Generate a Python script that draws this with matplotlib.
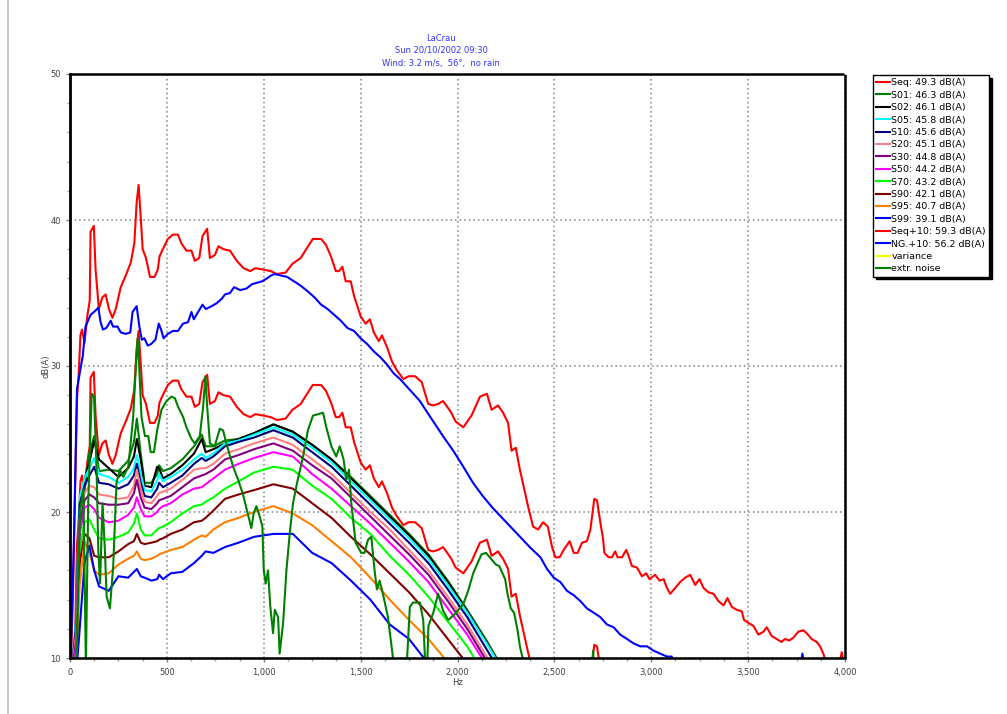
import matplotlib.pyplot as plt
import numpy as np
from matplotlib.lines import Line2D
from matplotlib.ticker import MultipleLocator, FuncFormatter

# Seq+10 (upper red); Seq is the same curve 10 dB lower
f_seq = [0, 15, 36, 45, 54, 62, 75, 89, 102, 106,
         123, 132, 149, 167, 184, 201, 219, 236, 262, 288,
         314, 332, 344, 354, 366, 375, 392, 413, 436, 453,
         462, 479, 505, 531, 557, 575, 601, 627, 644, 667,
         684, 708, 722, 748, 766, 792, 826, 861, 896, 930,
         957, 1000, 1035, 1069, 1113, 1148, 1191, 1219, 1253, 1296,
         1321, 1347, 1372, 1389, 1406, 1423, 1449, 1466, 1483, 1500,
         1526, 1548, 1568, 1594, 1610, 1636, 1662, 1687, 1721, 1747,
         1781, 1815, 1831, 1849, 1874, 1900, 1925, 1942, 1968, 1990,
         2030, 2072, 2116, 2152, 2176, 2209, 2235, 2261, 2279, 2301,
         2322, 2364, 2390, 2416, 2442, 2466, 2488, 2505, 2527, 2548,
         2579, 2600, 2620, 2643, 2668, 2686, 2706, 2720, 2737, 2751,
         2758, 2780, 2797, 2814, 2826, 2849, 2871, 2883, 2900, 2926,
         2952, 2974, 2991, 3020, 3043, 3064, 3081, 3098, 3124, 3149,
         3175, 3201, 3227, 3249, 3270, 3295, 3321, 3347, 3373, 3393,
         3416, 3441, 3467, 3479, 3502, 3527, 3553, 3579, 3596, 3622,
         3648, 3673, 3690, 3713, 3734, 3759, 3785, 3802, 3828, 3854,
         3871, 3888, 3905, 3950, 3975, 3983, 3992, 4000]
seq_p10 = [8.0, 14.0, 27.7, 29.5, 32.1, 32.5, 31.6, 33.4, 34.5, 39.2,
           39.6, 36.6, 33.9, 34.7, 34.9, 33.9, 33.3, 33.9, 35.4, 36.2,
           37.1, 38.4, 41.2, 42.4, 40.0, 38.0, 37.4, 36.1, 36.1, 36.6,
           37.5, 38.0, 38.7, 39.0, 39.0, 38.4, 37.9, 37.9, 37.2, 37.4,
           38.9, 39.4, 37.4, 37.6, 38.2, 38.0, 37.9, 37.2, 36.7, 36.5,
           36.7, 36.6, 36.5, 36.3, 36.4, 37.0, 37.4, 38.0, 38.7, 38.7,
           38.3, 37.5, 36.5, 36.5, 36.8, 35.8, 35.8, 34.8, 34.1, 33.4,
           32.9, 33.2, 32.3, 31.7, 32.1, 31.3, 30.3, 29.7, 29.1, 29.3,
           29.3, 28.9, 28.2, 27.4, 27.3, 27.4, 27.6, 27.3, 26.8, 26.2,
           25.8, 26.6, 27.9, 28.1, 27.0, 27.3, 26.8, 26.1, 24.2, 24.4,
           22.9, 20.4, 19.0, 18.8, 19.3, 19.0, 17.6, 16.9, 16.9, 17.4,
           18.0, 17.2, 17.2, 17.9, 18.0, 18.8, 20.9, 20.8, 19.3, 18.2,
           17.2, 16.9, 16.9, 17.3, 16.9, 16.9, 17.4, 17.0, 16.3, 16.2,
           15.6, 15.8, 15.4, 15.7, 15.3, 15.4, 14.8, 14.4, 14.8, 15.2,
           15.5, 15.7, 15.0, 15.4, 14.8, 14.5, 14.4, 13.9, 13.6, 14.1,
           13.5, 13.3, 13.2, 12.6, 12.4, 12.2, 11.6, 11.8, 12.1, 11.5,
           11.3, 11.1, 11.3, 11.2, 11.4, 11.8, 11.9, 11.7, 11.3, 11.1,
           10.8, 10.3, 9.6, 9.5, 9.8, 10.4, 9.8, 9.5]

# NG.+10 (upper blue)
f_ng = [0, 20, 36, 54, 66, 80, 106, 132, 146, 158,
        170, 187, 201, 210, 222, 245, 262, 288, 311, 323,
        344, 358, 371, 384, 401, 418, 441, 458, 470, 483,
        505, 531, 557, 583, 609, 627, 639, 661, 684, 701,
        731, 757, 783, 800, 826, 847, 878, 910, 939, 965,
        991, 1017, 1038, 1055, 1087, 1121, 1156, 1191, 1228, 1262,
        1296, 1330, 1364, 1398, 1432, 1466, 1500, 1534, 1568, 1602,
        1636, 1670, 1704, 1738, 1772, 1806, 1840, 1875, 1925, 1978,
        2030, 2080, 2130, 2180, 2230, 2280, 2330, 2380, 2428, 2462,
        2497, 2531, 2565, 2600, 2634, 2668, 2703, 2737, 2771, 2806,
        2840, 2875, 2909, 2943, 2978, 3012, 3046, 3081, 3106, 3115,
        3770, 3780, 3790, 4000]
ng_p10 = [8.0, 18.0, 28.4, 29.8, 30.7, 32.7, 33.5, 33.8, 34.0, 33.0,
          32.5, 32.6, 32.9, 33.1, 32.7, 32.7, 32.3, 32.2, 32.3, 33.7,
          34.1, 32.7, 31.8, 31.9, 31.4, 31.5, 31.8, 32.9, 32.5, 31.9,
          32.2, 32.4, 32.4, 32.9, 33.0, 33.7, 33.2, 33.7, 34.2, 33.9,
          34.1, 34.3, 34.6, 34.9, 35.0, 35.4, 35.2, 35.3, 35.6, 35.7,
          35.8, 36.0, 36.2, 36.3, 36.2, 36.1, 35.8, 35.5, 35.1, 34.7,
          34.2, 33.9, 33.5, 33.1, 32.6, 32.4, 31.9, 31.5, 31.0, 30.6,
          30.1, 29.5, 29.1, 28.6, 28.1, 27.6, 26.9, 26.2, 25.2, 24.2,
          23.1, 22.0, 21.1, 20.3, 19.6, 18.9, 18.2, 17.5, 16.9, 16.1,
          15.5, 15.2, 14.6, 14.3, 13.9, 13.4, 13.1, 12.8, 12.3, 12.1,
          11.6, 11.3, 11.0, 10.8, 10.8, 10.5, 10.3, 10.1, 10.1, 9.5,
          9.5, 10.3, 9.5, 9.5]

# statistical levels S01 ... S99
f_s = [0, 30, 50, 75, 100, 125, 150, 200, 250, 300,
       330, 345, 365, 385, 420, 450, 460, 480, 520, 580,
       640, 680, 700, 740, 800, 870, 950, 1050, 1150, 1250,
       1350, 1450, 1550, 1650, 1750, 1850, 1950, 2050, 2150, 2250]
s01 = [8.0, 12.0, 19.5, 21.5, 24.0, 25.2, 22.8, 22.9, 22.8, 23.5,
       24.8, 26.4, 24.0, 22.0, 22.0, 22.6, 23.2, 22.8, 23.0, 23.6,
       24.5, 25.3, 24.5, 24.5, 24.9, 25.0, 25.4, 26.0, 25.5, 24.6,
       23.6, 22.4, 21.1, 19.8, 18.5, 17.1, 15.3, 13.3, 11.2, 8.9]
s02 = [8.0, 12.0, 20.5, 22.2, 23.4, 24.9, 23.6, 23.0, 22.4, 23.0,
       23.8, 25.0, 23.6, 21.8, 21.7, 23.1, 23.0, 22.3, 22.6, 23.2,
       24.0, 25.0, 24.1, 24.3, 24.7, 25.0, 25.4, 26.0, 25.5, 24.6,
       23.6, 22.3, 21.0, 19.7, 18.4, 17.0, 15.2, 13.2, 11.1, 8.8]
s05 = [8.0, 12.5, 21.0, 22.3, 23.0, 23.7, 22.6, 22.4, 22.0, 22.4,
       23.0, 23.9, 22.6, 21.5, 21.4, 22.2, 22.6, 22.1, 22.4, 22.9,
       23.6, 24.0, 23.7, 24.0, 24.7, 24.9, 25.3, 25.8, 25.3, 24.4,
       23.4, 22.1, 20.8, 19.5, 18.2, 16.8, 15.0, 13.1, 11.0, 8.8]
s10 = [8.0, 12.0, 20.5, 21.8, 22.5, 23.1, 22.0, 21.9, 21.6, 21.9,
       22.5, 23.3, 22.0, 21.1, 21.0, 21.6, 22.0, 21.7, 22.0, 22.5,
       23.3, 23.7, 23.5, 23.8, 24.5, 24.8, 25.1, 25.6, 25.1, 24.1,
       23.1, 21.8, 20.5, 19.2, 17.9, 16.5, 14.7, 12.8, 10.6, 8.4]
s20 = [8.0, 11.5, 19.5, 21.3, 21.8, 21.7, 21.2, 21.1, 20.9, 21.0,
       21.8, 22.9, 21.6, 20.7, 20.6, 21.1, 21.3, 21.4, 21.6, 22.2,
       22.9, 23.0, 23.0, 23.3, 24.0, 24.3, 24.7, 25.1, 24.6, 23.6,
       22.6, 21.3, 20.0, 18.8, 17.4, 16.0, 14.2, 12.3, 10.1, 7.9]
s30 = [8.0, 11.0, 19.0, 20.8, 21.2, 21.0, 20.6, 20.5, 20.5, 20.6,
       21.3, 22.2, 21.0, 20.3, 20.2, 20.6, 20.8, 20.9, 21.1, 21.7,
       22.3, 22.5, 22.6, 22.9, 23.6, 23.9, 24.3, 24.7, 24.2, 23.2,
       22.3, 21.0, 19.7, 18.4, 17.1, 15.7, 13.9, 12.0, 9.8, 7.6]
s50 = [8.0, 10.5, 18.5, 20.3, 20.5, 20.2, 19.6, 19.3, 19.4, 19.8,
       20.3, 21.0, 20.2, 19.7, 19.7, 20.0, 20.2, 20.4, 20.6, 21.2,
       21.6, 21.7, 21.9, 22.3, 22.9, 23.3, 23.7, 24.1, 23.8, 22.6,
       21.6, 20.4, 19.2, 17.9, 16.6, 15.2, 13.4, 11.6, 9.5, 7.3]
s70 = [8.0, 10.0, 17.5, 19.3, 19.5, 18.8, 18.2, 18.1, 18.3, 18.6,
       19.2, 19.9, 18.8, 18.4, 18.4, 18.8, 18.9, 19.0, 19.3, 19.9,
       20.4, 20.5, 20.7, 21.0, 21.6, 22.1, 22.7, 23.1, 22.9, 21.8,
       20.9, 19.6, 18.5, 17.0, 15.7, 14.2, 12.5, 10.8, 8.6, 6.5]
s90 = [8.0, 9.5, 16.5, 18.5, 18.2, 17.0, 16.9, 16.9, 17.3, 17.8,
       18.0, 18.5, 17.9, 17.8, 17.9, 18.0, 18.1, 18.2, 18.5, 18.8,
       19.3, 19.4, 19.6, 20.1, 20.9, 21.2, 21.5, 21.9, 21.6, 20.6,
       19.6, 18.3, 17.1, 15.8, 14.5, 13.0, 11.3, 9.6, 7.5, 5.5]
s95 = [8.0, 9.0, 15.0, 18.0, 17.2, 16.0, 15.7, 15.8, 16.4, 16.8,
       17.0, 17.3, 16.8, 16.7, 16.8, 17.0, 17.1, 17.2, 17.4, 17.6,
       18.1, 18.4, 18.3, 18.8, 19.3, 19.6, 20.0, 20.4, 19.9, 19.1,
       18.0, 16.9, 15.5, 14.0, 12.6, 11.3, 9.7, 7.8, 6.0, 4.0]
s99 = [8.0, 8.5, 12.0, 16.5, 17.7, 16.0, 14.9, 14.6, 15.6, 15.5,
       15.9, 16.1, 15.6, 15.5, 15.3, 15.4, 15.7, 15.4, 15.8, 15.9,
       16.5, 17.0, 17.3, 17.2, 17.6, 17.9, 18.3, 18.5, 18.5, 17.2,
       16.5, 15.3, 14.0, 12.3, 11.3, 9.6, 8.0, 6.0, 4.0, 2.0]

# extraneous noise
f_ex = [0, 34, 43, 52, 69, 76, 82, 88, 94, 112,
        124, 137, 146, 155, 168, 180, 189, 206, 223, 240,
        258, 275, 301, 326, 340, 349, 357, 369, 387, 404,
        416, 433, 450, 472, 498, 524, 541, 558, 584, 601,
        627, 644, 670, 687, 699, 708, 722, 747, 773, 790,
        807, 842, 868, 893, 919, 936, 948, 962, 979, 993,
        1000, 1010, 1022, 1034, 1048, 1057, 1074, 1082, 1100, 1117,
        1134, 1151, 1172, 1203, 1228, 1254, 1306, 1323, 1349, 1374,
        1392, 1412, 1426, 1440, 1452, 1474, 1503, 1520, 1538, 1555,
        1572, 1584, 1598, 1615, 1641, 1667, 1680, 1730, 1740, 1754,
        1770, 1806, 1823, 1832, 1840, 1845, 1850, 1875, 1900, 1927,
        1952, 1986, 2030, 2055, 2081, 2107, 2124, 2147, 2160, 2198,
        2215, 2246, 2258, 2275, 2292, 2310, 2322, 2336, 2345, 2690,
        2700, 2708, 4000]
extr = [8.0, 9.0, 15.1, 20.1, 21.5, 15.0, 9.5, 15.0, 20.6, 28.1,
        27.9, 23.1, 17.4, 15.1, 20.6, 17.4, 14.2, 13.4, 16.3, 22.0,
        22.9, 22.4, 23.1, 26.5, 30.0, 31.9, 30.0, 26.5, 25.2, 25.2,
        24.1, 24.1, 25.6, 27.0, 27.6, 27.9, 27.8, 27.2, 26.5, 25.8,
        25.0, 24.7, 25.2, 27.2, 29.3, 27.2, 24.7, 24.5, 25.7, 25.6,
        24.7, 23.1, 22.2, 21.2, 19.8, 18.9, 19.9, 20.4, 19.7, 19.0,
        16.0, 15.1, 16.0, 13.5, 11.7, 13.3, 12.8, 10.3, 12.4, 16.0,
        18.5, 20.6, 22.0, 23.8, 25.6, 26.6, 26.8, 25.8, 24.5, 23.8,
        24.5, 23.6, 22.2, 22.9, 20.6, 17.9, 17.2, 17.2, 18.1, 18.3,
        16.0, 14.7, 15.3, 14.4, 12.8, 10.0, 8.0, 8.0, 10.0, 13.5,
        13.8, 13.8, 12.6, 10.0, 8.0, 10.0, 12.2, 13.1, 14.4, 13.2,
        12.6, 13.0, 13.7, 14.6, 15.8, 16.6, 17.1, 17.2, 17.0, 16.4,
        16.3, 15.4, 14.4, 13.4, 13.1, 11.9, 10.8, 10.0, 8.0, 8.0,
        10.5, 8.0, 8.0]

seq_p10 = np.array(seq_p10)
seq = seq_p10 - 10

title_lines = ['LaCrau', 'Sun 20/10/2002 09:30', 'Wind: 3.2 m/s,  56°,  no rain']
title_y = [38.3, 50.3, 63.5]  # pixel rows

# figure ~1007x714 px
fig = plt.figure(figsize=(10.07, 7.14), dpi=100)
ax = fig.add_axes([70 / 1007, 56 / 714, 775 / 1007, 584 / 714])

lw = 1.5
ax.plot(f_seq, seq, color='#ff0000', lw=lw, label='Seq: 49.3 dB(A)')
ax.plot(f_s, s01, color='#008000', lw=lw, label='S01: 46.3 dB(A)')
ax.plot(f_s, s02, color='#000000', lw=lw, label='S02: 46.1 dB(A)')
ax.plot(f_s, s05, color='#00ffff', lw=lw, label='S05: 45.8 dB(A)')
ax.plot(f_s, s10, color='#000080', lw=lw, label='S10: 45.6 dB(A)')
ax.plot(f_s, s20, color='#ff8080', lw=lw, label='S20: 45.1 dB(A)')
ax.plot(f_s, s30, color='#800080', lw=lw, label='S30: 44.8 dB(A)')
ax.plot(f_s, s50, color='#ff00ff', lw=lw, label='S50: 44.2 dB(A)')
ax.plot(f_s, s70, color='#00ff00', lw=lw, label='S70: 43.2 dB(A)')
ax.plot(f_s, s90, color='#800000', lw=lw, label='S90: 42.1 dB(A)')
ax.plot(f_s, s95, color='#ff8000', lw=lw, label='S95: 40.7 dB(A)')
ax.plot(f_s, s99, color='#0000ff', lw=lw, label='S99: 39.1 dB(A)')
ax.plot(f_seq, seq_p10, color='#ff0000', lw=lw, label='Seq+10: 59.3 dB(A)')
ax.plot(f_ng, ng_p10, color='#0000ff', lw=lw, label='NG.+10: 56.2 dB(A)')
ax.plot([], [], color='#ffff00', lw=lw, label='variance')
ax.plot(f_ex, extr, color='#008000', lw=lw, label='extr. noise')

ax.set_xlim(0, 4000)
ax.set_ylim(10, 50)

# ticks
ax.xaxis.set_major_locator(MultipleLocator(500))
ax.xaxis.set_minor_locator(MultipleLocator(125))
ax.yaxis.set_major_locator(MultipleLocator(10))
ax.yaxis.set_minor_locator(MultipleLocator(2))
ax.xaxis.set_major_formatter(FuncFormatter(lambda v, p: f'{int(v):,}'))
ax.tick_params(axis='both', which='major', labelsize=6, labelcolor='#404040',
               color='#808080', length=3, width=1)
ax.tick_params(axis='both', which='minor', color='#a0a0a0', length=2, width=1)
ax.tick_params(axis='x', pad=4)

# grid
ax.grid(True, which='major', color='#808080', linestyle=(0, (1, 2)), linewidth=1.1)

# spines: solid left, dotted others
for side in ['top', 'bottom', 'right']:
    ax.spines[side].set_linestyle((0, (1, 1)))
    ax.spines[side].set_linewidth(1.8)
ax.spines['left'].set_linewidth(2)

ax.set_xlabel('Hz', fontsize=6, color='#404040', labelpad=1)
ax.set_ylabel('dB(A)', fontsize=6, color='#404040', labelpad=0)

# title in blue
for t, y in zip(title_lines, title_y):
    fig.text(441 / 1007, 1 - y / 714, t, ha='center', va='center',
             fontsize=6, color='#3333ff')

# legend box to the right
leg = ax.legend(loc='upper left', bbox_to_anchor=(873 / 1007, 1 - 75 / 714),
                bbox_transform=fig.transFigure, fontsize=6.8, frameon=True,
                fancybox=False, edgecolor='black', framealpha=1,
                shadow={'color': 'black', 'alpha': 1.0},
                labelspacing=0.36, handlelength=1.5, handletextpad=0.1,
                borderpad=0.35, borderaxespad=0)
leg.get_frame().set_linewidth(1)

# light frame line at the left edge
fig.add_artist(Line2D([8 / 1007, 8 / 1007], [0, 1], transform=fig.transFigure,
                      color='#c4ccd8', lw=1.5))

plt.savefig('out.png', dpi=100)
